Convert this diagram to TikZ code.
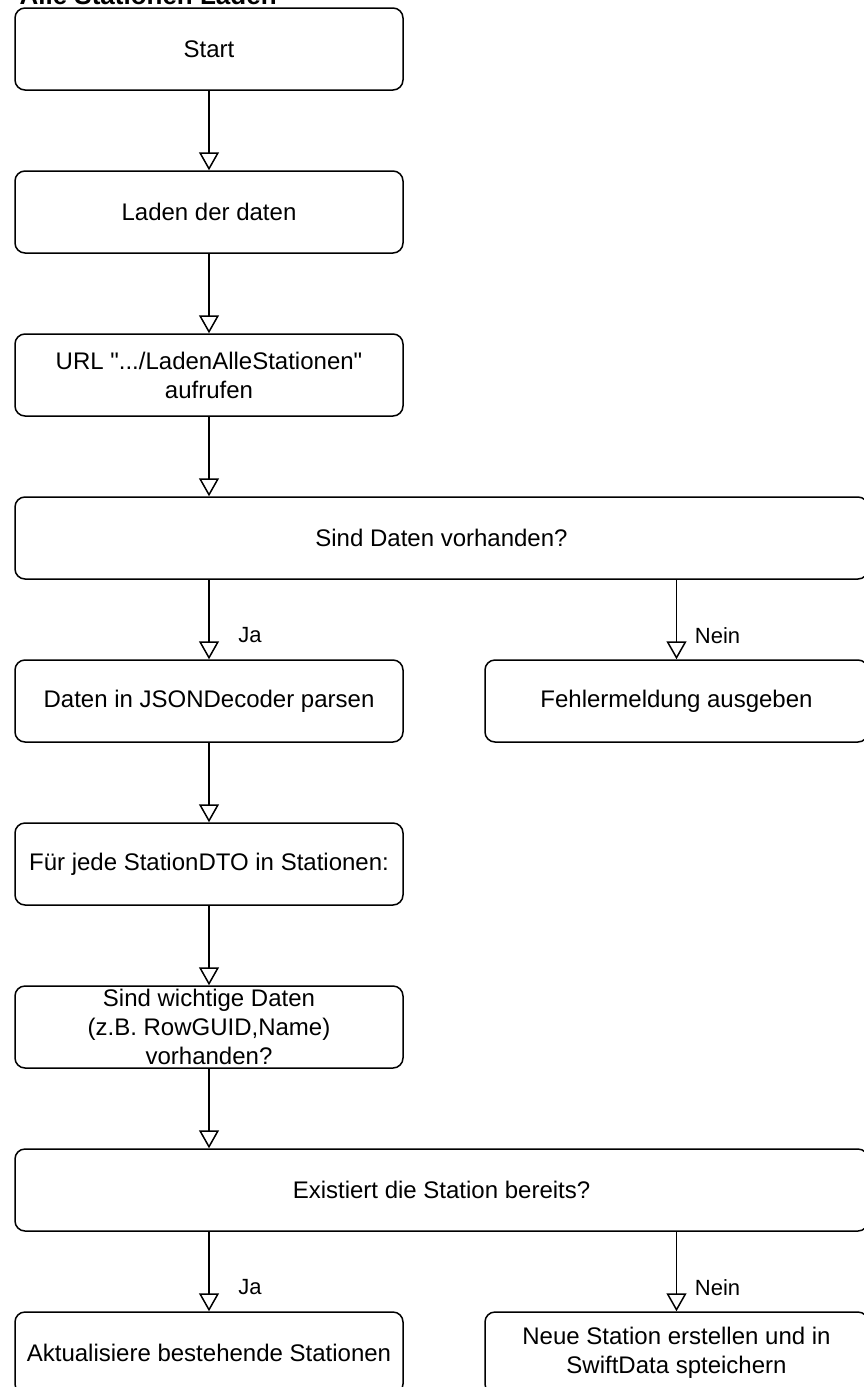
\documentclass[tikz,border=0pt]{standalone}
\usepackage{fontspec}
\setmainfont{Liberation Sans}
\usetikzlibrary{arrows.meta}
\usetikzlibrary{calc}

\begin{document}
\begin{tikzpicture}[x=1pt,y=-1pt,
    box/.style={draw,rectangle,rounded corners=10pt,line width=1.5pt,minimum height=82pt,inner sep=0pt,align=center,font=\fontsize{24}{29}\selectfont},
    narrow/.style={box,minimum width=388pt},
    wide/.style={box,minimum width=853pt},
    side/.style={box,minimum width=383pt},
    flow/.style={every edge/.style={draw,line width=1.5pt,-{Triangle[open,width=20pt,length=18pt,fill=white]}}},
    answer/.style={font=\fontsize{22}{26}\selectfont,xshift=41pt,pos=0.7}]
  \useasboundingbox (0,0) rectangle (864,1387);

  \node [anchor=base west,font=\bfseries\fontsize{26}{30}\selectfont] (title) at (16,4) {Alle Stationen Laden};

  \node [narrow] (start) at (209,49) {Start};
  \node [narrow] (laden) at (209,212) {Laden der daten};
  \node [narrow] (url) at (209,375) {URL \textquotedbl.../LadenAlleStationen\textquotedbl\\aufrufen};
  \node [wide] (daten_da) at (441.5,538) {Sind Daten vorhanden?};
  \node [narrow] (parse) at (209,701) {Daten in JSONDecoder parsen};
  \node [side] (fehler) at (676.5,701) {Fehlermeldung ausgeben};
  \node [narrow] (jede) at (209,864) {Für jede StationDTO in Stationen:};
  \node [narrow] (wichtig) at (209,1027) {Sind wichtige Daten\\(z.B. RowGUID,Name)\\vorhanden?};
  \node [wide] (existiert) at (441.5,1190) {Existiert die Station bereits?};
  \node [narrow] (update) at (209,1353) {Aktualisiere bestehende Stationen};
  \node [side] (neu) at (676.5,1353) {Neue Station erstellen und in\\SwiftData spteichern};

  \path [flow]
    (start) edge (laden)
    (laden) edge (url)
    (url.south) edge (parse.north |- daten_da.north)
    (parse) edge (jede)
    (jede) edge (wichtig)
    (wichtig.south) edge (parse.north |- existiert.north);

  \path [flow]
    (parse.north |- daten_da.south) edge node [answer] {Ja} (parse.north)
    (fehler.north |- daten_da.south) edge node [answer] {Nein} (fehler.north)
    (update.north |- existiert.south) edge node [answer] {Ja} (update.north)
    (neu.north |- existiert.south) edge node [answer] {Nein} (neu.north);

\end{tikzpicture}
\end{document}
